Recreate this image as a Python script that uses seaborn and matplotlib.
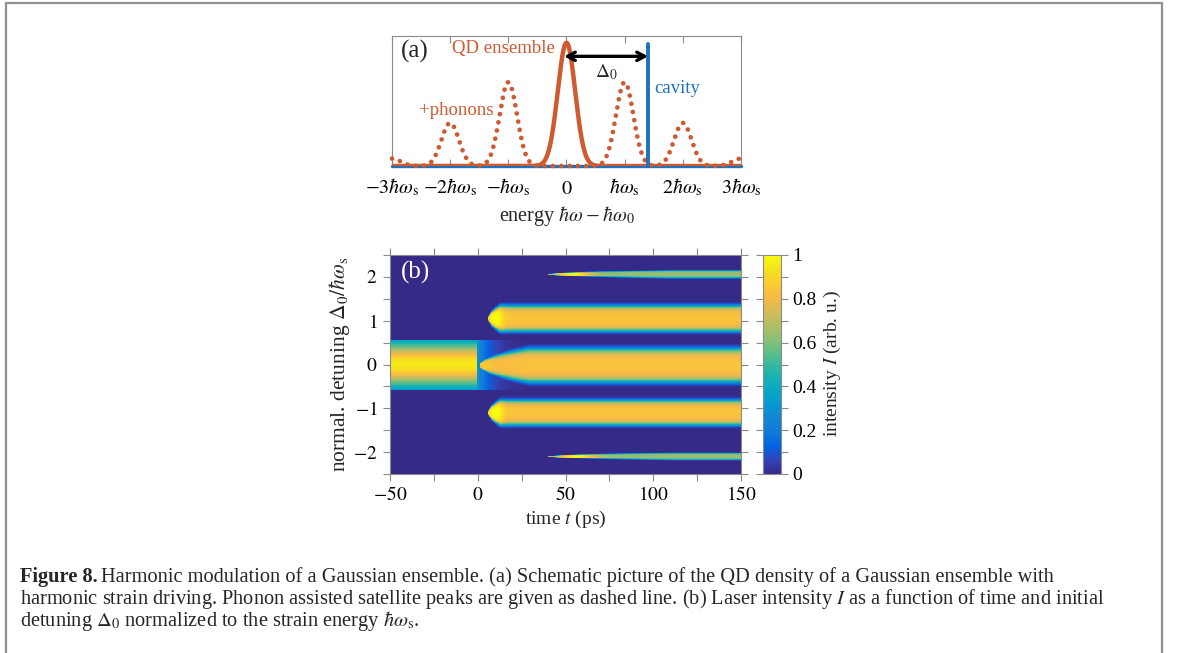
import numpy as np
import matplotlib
matplotlib.use("Agg")
import matplotlib.pyplot as plt
import seaborn as sns
from matplotlib.colors import LinearSegmentedColormap
from matplotlib.lines import Line2D

# ---------------- panel (a) values ----------------
a_tick_pos = [-3, -2, -1, 0, 1, 2, 3]
a_tick_lab = [r'$-3\hbar\omega_{\rm s}$', r'$-2\hbar\omega_{\rm s}$', r'$-\hbar\omega_{\rm s}$',
              r'$0$', r'$\hbar\omega_{\rm s}$', r'$2\hbar\omega_{\rm s}$', r'$3\hbar\omega_{\rm s}$']
qd_center = 0.0
qd_height = 1.0
peak_sigma = 0.15
sat_pos = [-3, -2, -1, 1, 2, 3]
sat_height = [0.06, 0.35, 0.68, 0.68, 0.35, 0.06]
cavity_pos = 1.4
cavity_height = 0.99
arrow_y = 0.89

# ---------------- panel (b) values ----------------
t_lim = [-50, 150]
d_lim = [-2.5, 2.5]
t_label_ticks = [-50, 0, 50, 100, 150]
d_label_ticks = [-2, -1, 0, 1, 2]
cb_label_ticks = [0, 0.2, 0.4, 0.6, 0.8, 1.0]
cb_tick_labels = ['0', '0.2', '0.4', '0.6', '0.8', '1']
pre_top, pre_bottom = 0.55, -0.57
pre_peak, pre_sigma = 0.95, 0.40
resid_level, resid_decay = 0.30, 7.0
band_center = [2.06, 1.05, -0.02, -1.10, -2.10]
band_halfw = [0.09, 0.30, 0.39, 0.29, 0.08]
band_onset = [40, 6, 1, 6, 40]
band_rise = [70, 7, 28, 7, 70]
band_level = [0.60, 0.80, 0.80, 0.80, 0.60]
band_flash = [0.98, 1.00, 0.86, 1.00, 0.98]
flash_delay = [14, 4, 3, 4, 16]

# parula-like colormap (style)
parula_pts = [
    (0.2081, 0.1663, 0.5292), (0.1959, 0.2645, 0.7279), (0.0117, 0.3875, 0.8820),
    (0.0629, 0.4737, 0.8554), (0.0793, 0.5200, 0.8312), (0.0343, 0.5966, 0.8199),
    (0.0228, 0.6535, 0.7768), (0.0843, 0.6928, 0.7062), (0.2178, 0.7250, 0.6193),
    (0.3953, 0.7459, 0.5244), (0.5708, 0.7485, 0.4494), (0.7184, 0.7411, 0.3905),
    (0.8506, 0.7299, 0.3360), (0.9739, 0.7314, 0.2666), (0.9880, 0.8066, 0.1794),
    (0.9589, 0.8949, 0.1132), (0.9763, 0.9831, 0.0538)]
parula = LinearSegmentedColormap.from_list("parula", parula_pts, N=256)

ORANGE = "#CF5A30"
BLUE = "#1C72BC"
SPINE = "#8a8a8a"

sns.set_style("ticks")
plt.rcParams["font.family"] = ["Liberation Serif", "DejaVu Serif"]
plt.rcParams["mathtext.fontset"] = "stix"
plt.rcParams["axes.edgecolor"] = SPINE
plt.rcParams["xtick.color"] = SPINE
plt.rcParams["ytick.color"] = SPINE
plt.rcParams["xtick.labelcolor"] = "black"
plt.rcParams["ytick.labelcolor"] = "black"

W, H = 1179, 653
fig = plt.figure(figsize=(W / 100, H / 100), dpi=100)
fig.patch.set_facecolor("white")


def px(x0, y0, x1, y1):
    return [x0 / W, 1 - y1 / H, (x1 - x0) / W, (y1 - y0) / H]


# ================= panel (a) =================
ax_a = fig.add_axes(px(392, 36, 741, 166))
E = np.linspace(-3, 3, 1200)
qd = qd_height * np.exp(-0.5 * ((E - qd_center) / peak_sigma) ** 2)
sat = np.zeros_like(E)
for p, h in zip(sat_pos, sat_height):
    sat += h * np.exp(-0.5 * ((E - p) / peak_sigma) ** 2)

sns.lineplot(x=[-3, 3], y=[0, 0], ax=ax_a, color=BLUE, lw=2.4, clip_on=False, zorder=3)
sns.lineplot(x=E, y=sat, ax=ax_a, color=ORANGE, lw=3.4, linestyle=(0, (0.01, 1.75)),
             dash_capstyle="round", zorder=4, clip_on=False)
sns.lineplot(x=E, y=qd, ax=ax_a, color=ORANGE, lw=3.2, zorder=5)
sns.lineplot(x=[cavity_pos, cavity_pos], y=[0, cavity_height], ax=ax_a, color=BLUE,
             lw=2.8, estimator=None, sort=False, zorder=5, clip_on=False)
ax_a.annotate("", xy=(cavity_pos, arrow_y), xytext=(qd_center - 0.04, arrow_y),
              arrowprops=dict(arrowstyle="<->,head_length=0.55,head_width=0.3",
                              lw=2.4, color="black", shrinkA=0, shrinkB=0), zorder=6)
ax_a.set_xlim(-3, 3)
ax_a.set_ylim(0, 1.055)
ax_a.set_yticks([])
ax_a.set_xticks(a_tick_pos)
ax_a.set_xticklabels(a_tick_lab, fontsize=14.5)
ax_a.tick_params(axis="x", which="both", direction="in", top=True, bottom=True,
                 length=5, width=0.8, pad=20)
plt.setp(ax_a.get_xticklabels(), va="baseline")
for s in ax_a.spines.values():
    s.set_visible(True)
    s.set_linewidth(0.8)
ax_a.set_xlabel(r"energy $\hbar\omega-\hbar\omega_0$", fontsize=14.5, labelpad=4)
ax_a.text(0.024, 0.88, "(a)", transform=ax_a.transAxes, fontsize=18, va="center", ha="left")
ax_a.text(-1.09, 0.955, "QD ensemble", color=ORANGE, fontsize=13.5, va="center", ha="center")
ax_a.text(-1.9, 0.45, "+phonons", color=ORANGE, fontsize=13.5, va="center", ha="center")
ax_a.text(1.51, 0.63, "cavity", color=BLUE, fontsize=13.5, va="center", ha="left")
ax_a.text(0.68, 0.765, r"$\Delta_0$", fontsize=14, va="center", ha="center")
ax_a.set_ylabel("")

# ================= panel (b) =================
nt, nd = 450, 480
t = t_lim[0] + (np.arange(nt) + 0.5) * (t_lim[1] - t_lim[0]) / nt
d = d_lim[0] + (np.arange(nd) + 0.5) * (d_lim[1] - d_lim[0]) / nd
T, D = np.meshgrid(t, d)
I = np.zeros_like(T)
inside = (D <= pre_top) & (D >= pre_bottom)
pre = (T < 0) & inside
I[pre] = pre_peak * np.exp(-0.5 * (D[pre] / pre_sigma) ** 2)
res = (T >= 0) & inside
I[res] = resid_level * np.exp(-T[res] / resid_decay)
for c, w, on, rise, lev, fl, fd in zip(band_center, band_halfw, band_onset, band_rise,
                                      band_level, band_flash, flash_delay):
    frac = np.clip((T - on) / rise, 0, 1)
    width = np.maximum(w * np.sqrt(frac), 1e-4)
    amp = lev + (fl - lev) * np.exp(-((T - on - fd) / (0.6 * fd + 2)) ** 2)
    core = 0.04 * np.exp(-0.5 * ((D - c) / (0.35 * w)) ** 2)
    prof = np.exp(-(np.abs(D - c) / width) ** 6)
    val = np.where(T >= on, np.minimum(amp + core * frac, 1.0) * prof, 0.0)
    I = np.maximum(I, val)

ax_b = fig.add_axes(px(390, 255, 741, 474))
cax = fig.add_axes(px(763, 255, 781, 474))
sns.heatmap(I, ax=ax_b, cmap=parula, vmin=0, vmax=1, cbar_ax=cax,
            xticklabels=False, yticklabels=False, rasterized=True)
ax_b.set_xlim(0, nt)
ax_b.set_ylim(0, nd)


def tx(v):
    return (np.asarray(v, float) - t_lim[0]) / (t_lim[1] - t_lim[0]) * nt


def dy(v):
    return (np.asarray(v, float) - d_lim[0]) / (d_lim[1] - d_lim[0]) * nd


t_all = np.arange(t_lim[0], t_lim[1] + 0.1, 25)
d_all = np.arange(-2.5, 2.51, 0.5)
ax_b.set_xticks(tx(t_all))
ax_b.set_xticklabels([(r"$%d$" % v if v in t_label_ticks else "") for v in t_all], fontsize=14)
ax_b.set_yticks(dy(d_all))
ax_b.set_yticklabels([(r"$%d$" % v if float(v).is_integer() and -2 <= v <= 2 else "")
                      for v in d_all], fontsize=14)
ax_b.tick_params(which="both", direction="out", top=True, right=True, bottom=True,
                 left=True, length=5, width=0.8, pad=4)
for s in ax_b.spines.values():
    s.set_visible(True)
    s.set_linewidth(0.8)
    s.set_color(SPINE)
ax_b.set_xlabel(r"time $t$ (ps)", fontsize=14, labelpad=3)
ax_b.set_ylabel(r"normal. detuning $\Delta_0/\hbar\omega_{\rm s}$", fontsize=15.5, labelpad=1)
ax_b.text(0.03, 0.92, "(b)", transform=ax_b.transAxes, fontsize=18, color="white",
          va="center", ha="left")

cbar = ax_b.collections[0].colorbar
cbar.outline.set_linewidth(0.8)
cbar.outline.set_edgecolor(SPINE)
cb_all = np.round(np.arange(0, 1.01, 0.1), 1)
cbar.set_ticks(cb_all)
cbar.set_ticklabels([cb_tick_labels[cb_label_ticks.index(v)] if v in cb_label_ticks else ""
                     for v in cb_all])
cax.tick_params(which="both", direction="out", left=True, right=True, length=5,
                width=0.8, labelsize=14, pad=3, labelcolor="black", color=SPINE)
fig.text(832 / W, 1 - 364 / H, r"intensity $I$ (arb. u.)", rotation=90, fontsize=14,
         ha="center", va="center")

# ================= caption =================
cap_x = 20
cap_y = [577, 599, 621]
cap_size = 14.7
fig.canvas.draw()
r = fig.canvas.get_renderer()
t1 = fig.text(cap_x / W, 1 - cap_y[0] / H, "Figure 8.", fontsize=cap_size, fontweight="bold",
              va="center", ha="left")
bb = t1.get_window_extent(renderer=r)
fig.text((bb.x1 + 3) / W, 1 - cap_y[0] / H,
         "Harmonic modulation of a Gaussian ensemble. (a) Schematic picture of the QD density of a Gaussian ensemble with",
         fontsize=cap_size, va="center", ha="left")
fig.text(cap_x / W, 1 - cap_y[1] / H,
         r"harmonic strain driving. Phonon assisted satellite peaks are given as dashed line. (b) Laser intensity $I$ as a function of time and initial",
         fontsize=cap_size, va="center", ha="left")
fig.text(cap_x / W, 1 - cap_y[2] / H,
         r"detuning $\Delta_0$ normalized to the strain energy $\hbar\omega_{\rm s}$.",
         fontsize=cap_size, va="center", ha="left")

# ================= page frame =================
fcol = "#8f9292"
fig.add_artist(Line2D([6 / W, 6 / W], [0, 1 - 3 / H], color=fcol, lw=1.6, transform=fig.transFigure))
fig.add_artist(Line2D([6 / W, 1162 / W], [1 - 3 / H, 1 - 3 / H], color=fcol, lw=1.6, transform=fig.transFigure))
fig.add_artist(Line2D([1162 / W, 1162 / W], [0, 1 - 3 / H], color=fcol, lw=1.6, transform=fig.transFigure))

fig.savefig("out.png", dpi=100)
